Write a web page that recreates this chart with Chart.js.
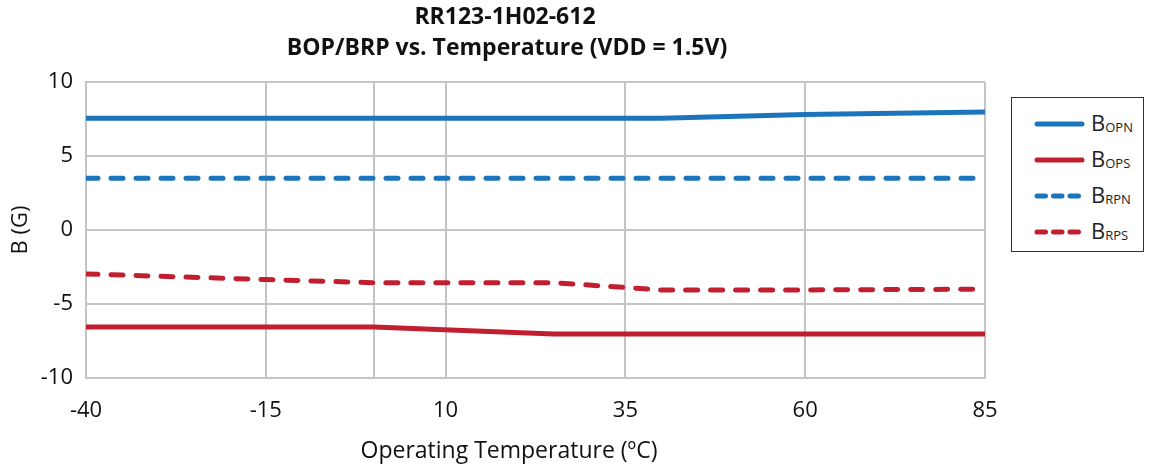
<!DOCTYPE html>
<html>
<head>
<meta charset="utf-8">
<script src="https://cdn.jsdelivr.net/npm/chart.js@4"></script>
<style>
  html, body { margin: 0; padding: 0; background: #fff; }
  #wrap { position: relative; width: 1152px; height: 470px; }
  #legend {
    position: absolute; left: 1011px; top: 97px; width: 133px; height: 155px;
    border: 1.5px solid #333; box-sizing: border-box; background: #fff;
    font-family: "Open Sans", sans-serif; color: #222;
  }
  .item { position: absolute; left: 22px; height: 24px; display: flex; align-items: center; }
  .item svg { width: 52px; height: 10px; }
  .item span { margin-left: 5px; font-size: 22px; line-height: 24px; }
  .item sub { font-size: 13px; vertical-align: -1px; }
</style>
</head>
<body>
<div id="wrap">
  <canvas id="chart" width="1152" height="470"></canvas>
  <div id="legend"></div>
</div>
<script>
const temperatures = [-40, -15, 0, 25, 40, 60, 85];
const bOPN = [7.55, 7.55, 7.55, 7.55, 7.55, 7.8, 7.98];
const bOPS = [-6.55, -6.55, -6.55, -7.03, -7.03, -7.03, -7.03];
const bRPN = [3.5, 3.5, 3.5, 3.5, 3.5, 3.5, 3.5];
const bRPS = [-2.97, -3.35, -3.56, -3.56, -4.05, -4.05, -4.0];

const xTicks = [-40, -15, 0, 10, 35, 60, 85];
const xTickLabels = ['-40', '-15', '', '10', '35', '60', '85'];
const yTicks = [-10, -5, 0, 5, 10];

const titleLines = ['RR123-1H02-612', 'BOP/BRP vs. Temperature (VDD = 1.5V)'];
const xTitle = 'Operating Temperature (ºC)';
const yTitle = 'B (G)';

const BLUE = '#1c75bc';
const RED = '#c11f30';
const GRID = '#c4c4c4';
const FONT = '"Open Sans", sans-serif';

const series = [
    { name: 'B', sub: 'OPN', data: bOPN, color: BLUE, dash: [] },
    { name: 'B', sub: 'OPS', data: bOPS, color: RED, dash: [] },
    { name: 'B', sub: 'RPN', data: bRPN, color: BLUE, dash: [12, 13] },
    { name: 'B', sub: 'RPS', data: bRPS, color: RED, dash: [12, 13] }
];

// title and x-axis title are a bit left of the plot centre in the original
const textPlugin = {
    id: 'extraText',
    afterDraw(chart) {
        const ctx = chart.ctx;
        ctx.save();
        ctx.fillStyle = '#111';
        ctx.textAlign = 'center';
        ctx.textBaseline = 'middle';
        ctx.font = 'bold 23px ' + FONT;
        ctx.fillText(titleLines[0], 505, 17);
        ctx.fillText(titleLines[1], 507, 48);
        ctx.font = '23px ' + FONT;
        ctx.fillText(xTitle, 509, 451);
        ctx.translate(21, 230);
        ctx.rotate(-Math.PI / 2);
        ctx.font = '22px ' + FONT;
        ctx.fillText(yTitle, 0, 0);
        ctx.restore();
    }
};

const ctx = document.getElementById('chart').getContext('2d');

window.tempChart = new Chart(ctx, {
    type: 'line',
    data: {
        datasets: series.map(s => ({
            label: s.name + s.sub,
            data: temperatures.map((t, i) => ({ x: t, y: s.data[i] })),
            borderColor: s.color,
            borderWidth: 5,
            borderDash: s.dash,
            borderCapStyle: s.dash.length ? 'round' : 'butt',
            borderJoinStyle: 'round',
            pointRadius: 0,
            tension: 0,
            fill: false
        }))
    },
    options: {
        responsive: false,
        animation: false,
        layout: { padding: { left: 0, right: 167, top: 82, bottom: 0 } },
        plugins: {
            legend: { display: false },
            title: { display: false },
            tooltip: { enabled: false }
        },
        scales: {
            x: {
                type: 'linear',
                min: -40,
                max: 85,
                afterBuildTicks: scale => {
                    scale.ticks = xTicks.map(v => ({ value: v }));
                },
                afterFit: scale => { scale.height = 92; },
                grid: { color: GRID, lineWidth: 2, drawTicks: false },
                border: { color: GRID, width: 2 },
                ticks: {
                    padding: 20,
                    color: '#111',
                    font: { family: FONT, size: 22 },
                    maxRotation: 0,
                    callback: (value, index) => xTickLabels[index]
                }
            },
            y: {
                min: -10,
                max: 10,
                afterBuildTicks: scale => {
                    scale.ticks = yTicks.map(v => ({ value: v }));
                },
                afterFit: scale => { scale.width = 86; },
                grid: { color: GRID, lineWidth: 2, drawTicks: false },
                border: { color: GRID, width: 2 },
                ticks: {
                    padding: 13,
                    color: '#111',
                    font: { family: FONT, size: 22 }
                }
            }
        }
    },
    plugins: [textPlugin]
});

function renderLegend() {
    const box = document.getElementById('legend');
    let html = '';
    series.forEach((s, i) => {
        const dash = s.dash.length ? 'stroke-dasharray="8.5 8"' : '';
        html += `
            <div class="item" style="top:${14 + i * 36}px">
                <svg viewBox="0 0 52 10"><line x1="3" y1="5" x2="48" y2="5" stroke="${s.color}" stroke-width="5" stroke-linecap="round" ${dash}/></svg>
                <span>${s.name}<sub>${s.sub}</sub></span>
            </div>
        `;
    });
    box.innerHTML = html;
}

renderLegend();
</script>
</body>
</html>
